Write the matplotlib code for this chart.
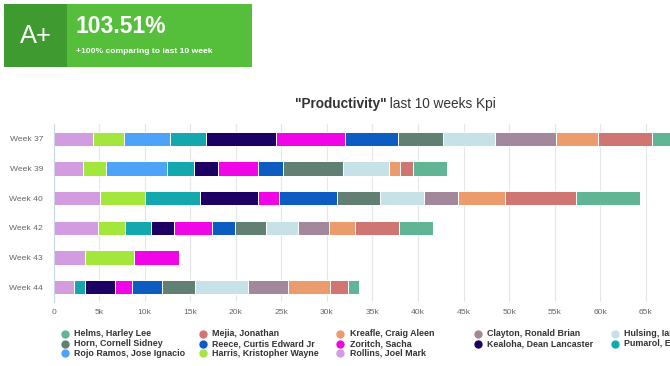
import matplotlib
matplotlib.use("Agg")
import matplotlib.pyplot as plt
from matplotlib.patches import Rectangle
from matplotlib.lines import Line2D
from matplotlib.ticker import FuncFormatter, FixedLocator

plt.rcParams['font.family'] = ['Liberation Sans', 'DejaVu Sans']

# ---------------- data ----------------
weeks = ["Week 37", "Week 39", "Week 40", "Week 42", "Week 43", "Week 44"]

# stacking order, left to right
rollins = [4380, 3250, 5090, 4850, 3440, 2260]
harris  = [3390, 2540, 4940, 3010, 5370, 0]
rojo    = [5030, 6690, 0, 0, 0, 0]
pumarol = [3960, 2930, 6080, 2790, 0, 1230]
kealoha = [7700, 2600, 6310, 2540, 0, 3290]
zoritch = [7480, 4420, 2310, 4240, 4990, 1840]
reece   = [5840, 2700, 6400, 2490, 0, 3300]
horn    = [5000, 6600, 4720, 3450, 0, 3620]
hulsing = [5620, 5050, 4800, 3470, 0, 5800]
clayton = [6750, 0, 3720, 3350, 0, 4370]
kreafle = [4550, 1200, 5180, 2930, 0, 4620]
mejia   = [5950, 1500, 7820, 4800, 0, 1980]
helms   = [3200, 3730, 6970, 3670, 0, 1180]

series_names = ["Rollins, Joel Mark", "Harris, Kristopher Wayne", "Rojo Ramos, Jose Ignacio",
                "Pumarol, Eddy", "Kealoha, Dean Lancaster", "Zoritch, Sacha",
                "Reece, Curtis Edward Jr", "Horn, Cornell Sidney", "Hulsing, Ian",
                "Clayton, Ronald Brian", "Kreafle, Craig Aleen", "Mejia, Jonathan",
                "Helms, Harley Lee"]
series_values = [rollins, harris, rojo, pumarol, kealoha, zoritch, reece, horn,
                 hulsing, clayton, kreafle, mejia, helms]
series_colors = ["#d39be0", "#a3e63c", "#4da3f7", "#13a8ad", "#1c0064", "#f005e6",
                 "#0c5cc1", "#627f74", "#c6e1e7", "#a3889b", "#eb9b6c", "#cf7673",
                 "#5fb594"]

x_max = 75000
x_ticks = [0, 5000, 10000, 15000, 20000, 25000, 30000, 35000, 40000, 45000,
           50000, 55000, 60000, 65000]
x_grid = x_ticks + [70000, 75000]

# ---------------- figure ----------------
W, H = 670, 366
fig = plt.figure(figsize=(W / 100, H / 100), dpi=100)

def fx(px):
    return px / W

def fy(py):
    return 1 - py / H

# axes: 0 at x=53.5 px, 75k at ~737 px; top 124 px, bottom 302 px
ax_left, ax_right, ax_top, ax_bot = 53.5, 737.0, 124.0, 302.0
ax = fig.add_axes([fx(ax_left), fy(ax_bot), (ax_right - ax_left) / W, (ax_bot - ax_top) / H])

ypos = list(range(len(weeks)))
left = [0] * len(weeks)
for name, vals, col in zip(series_names, series_values, series_colors):
    ax.barh(ypos, vals, left=left, height=0.485, color=col, edgecolor='white',
            linewidth=0.7, zorder=3)
    left = [l + v for l, v in zip(left, vals)]

ax.set_ylim(len(weeks) - 0.5, -0.5)
ax.set_xlim(0, x_max)
ax.set_yticks(ypos)
ax.set_yticklabels(weeks)
ax.xaxis.set_major_locator(FixedLocator(x_ticks))
ax.xaxis.set_major_formatter(FuncFormatter(lambda v, p: "0" if v == 0 else f"{int(v/1000)}k"))
for g in x_grid:
    ax.axvline(g, color='#e6e6e6', linewidth=0.8, zorder=0)
for s in ['top', 'right', 'bottom']:
    ax.spines[s].set_visible(False)
ax.spines['left'].set_color('#ccd6eb')
ax.spines['left'].set_linewidth(0.8)
ax.spines['left'].set_zorder(4)
ax.tick_params(axis='both', length=0, colors='#666666', labelsize=6.1)
ax.tick_params(axis='y', pad=7.5)
ax.tick_params(axis='x', pad=5)

# ---------------- title ----------------
renderer = fig.canvas.get_renderer()
t1 = fig.text(0, fy(104), '"Productivity"', fontsize=9.8, fontweight='bold',
              color='#333333', va='center', ha='left')
t2 = fig.text(0, fy(104), ' last 10 weeks Kpi', fontsize=9.8, color='#333333',
              va='center', ha='left')
w1 = t1.get_window_extent(renderer).width
w2 = t2.get_window_extent(renderer).width
cx = (ax_left + ax_right) / 2
start = cx - (w1 + w2) / 2
t1.set_x(fx(start))
t2.set_x(fx(start + w1))

# ---------------- header box ----------------
fig.add_artist(Rectangle((fx(4), fy(66.7)), fx(251.7 - 4), (66.7 - 4) / H,
                         transform=fig.transFigure, facecolor='#55bf3b',
                         edgecolor='none', zorder=1))
fig.add_artist(Rectangle((fx(4), fy(66.7)), fx(66.7 - 4), (66.7 - 4) / H,
                         transform=fig.transFigure, facecolor='#3f9b30',
                         edgecolor='none', zorder=2))
fig.text(fx(35.5), fy(36), "A+", fontsize=18.4, color='white', ha='center', va='center', zorder=3)
fig.text(fx(75.5), fy(26.5), "103.51%", fontsize=16.5, fontweight='bold', color='white',
         ha='left', va='center', zorder=3)
fig.text(fx(76), fy(51.5), "+100% comparing to last 10 week", fontsize=6.1,
         fontweight='bold', color='white', ha='left', va='center', zorder=3)

# ---------------- legend (Highcharts-like, horizontal rows) ----------------
legend_order = ["Helms, Harley Lee", "Mejia, Jonathan", "Kreafle, Craig Aleen",
                "Clayton, Ronald Brian", "Hulsing, Ian",
                "Horn, Cornell Sidney", "Reece, Curtis Edward Jr", "Zoritch, Sacha",
                "Kealoha, Dean Lancaster", "Pumarol, Eddy",
                "Rojo Ramos, Jose Ignacio", "Harris, Kristopher Wayne", "Rollins, Joel Mark"]
col_x = [65, 202.5, 340, 477.5, 615]
row_y = [334, 343.7, 353.3]
cmap = dict(zip(series_names, series_colors))
for i, nm in enumerate(legend_order):
    r, c = divmod(i, 5)
    x, y = col_x[c], row_y[r]
    fig.add_artist(Line2D([fx(x)], [fy(y)], transform=fig.transFigure, marker='o',
                          markersize=5, color=cmap[nm], linestyle='none'))
    fig.text(fx(x + 9.5), fy(y), nm, fontsize=6.4, fontweight='bold', color='#333333',
             ha='left', va='center')

fig.savefig("out.png", dpi=100)
